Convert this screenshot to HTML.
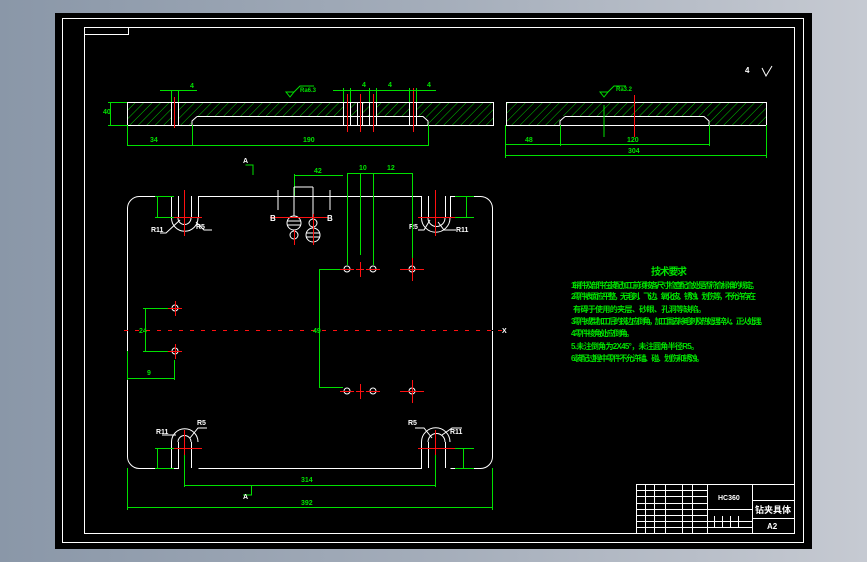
<!DOCTYPE html>
<html><head><meta charset="utf-8"><style>
html,body{margin:0;padding:0;width:867px;height:562px;overflow:hidden;background:linear-gradient(90deg,#8a97a8 0%,#a4adba 50%,#c6cad2 100%);}
svg{position:absolute;left:0;top:0}
.w{stroke:#fff;stroke-width:1;fill:none}
.g{stroke:#00e000;stroke-width:1;fill:none}
.r{stroke:#ff1010;stroke-width:1;fill:none}
.t{fill:#00e000;font-family:"Liberation Sans","Noto Sans CJK SC",sans-serif;font-weight:bold}
.tw{fill:#fff;font-family:"Liberation Sans","Noto Sans CJK SC",sans-serif;font-weight:bold}
</style></head><body>
<svg width="867" height="562" viewBox="0 0 867 562">
<defs>
<pattern id="h" width="6" height="6" patternUnits="userSpaceOnUse" patternTransform="rotate(45)">
<line x1="0" y1="0" x2="0" y2="6" stroke="#00c800" stroke-width="1"/>
</pattern>
</defs>
<rect x="55" y="13" width="757" height="536" fill="#000"/>
<rect x="62.5" y="18.5" width="741" height="524" class="w"/>
<rect x="84.5" y="27.5" width="710" height="506" class="w"/>
<polyline points="84.5,34.5 128.5,34.5 128.5,27.5" class="w"/>

<!-- section 1 -->
<rect x="127" y="102" width="366" height="23" fill="url(#h)"/>
<rect x="192" y="116" width="234" height="9" fill="#000"/>
<rect x="171" y="102" width="8" height="23" fill="#000"/>
<rect x="343" y="102" width="7" height="23" fill="#000"/><rect x="357" y="102" width="5" height="23" fill="#000"/><rect x="369" y="102" width="8" height="23" fill="#000"/><rect x="409" y="102" width="8" height="23" fill="#000"/>
<path class="w" d="M127.5,102.5H493.5V125.5H127.5ZM197,116.5H423L428,121V125M197,116.5L192,121V125"/>
<path class="w" d="M171.5,102V125M178.5,102V125M343.5,102V125M350.5,102V125M357.5,102V125M362.5,102V125M369.5,102V125M376.5,102V125M409.5,102V125M416.5,102V125"/>
<path class="r" d="M174.5,97V128M347.5,94V132M360.5,94V132M373.5,94V132M413.5,88V132"/>
<path class="g" d="M108,102.5H127M108,125.5H127M110.5,102V126M160,90.5H197M171.5,90V102M178.5,90V102M333,90.5H436M343.5,88V102M350.5,88V102M369.5,88V102M376.5,88V102M409.5,88V102M416.5,88V102M127.5,125V146M192.5,125V146M428.5,125V146M127,145.5H428M290,97L286,92H294ZM294,92L300,86H314"/>
<text class="t" x="103" y="114" font-size="7">40</text>
<text class="t" x="150" y="142" font-size="7">34</text>
<text class="t" x="303" y="142" font-size="7">190</text>
<text class="t" x="190" y="88" font-size="7">4</text><text class="t" x="362" y="87" font-size="7">4</text><text class="t" x="388" y="87" font-size="7">4</text><text class="t" x="427" y="87" font-size="7">4</text>
<text class="t" x="300" y="92" font-size="6">Ra6.3</text>
<!-- section 2 -->
<rect x="506" y="102" width="260" height="23" fill="url(#h)"/>
<rect x="560" y="116" width="148" height="9" fill="#000"/>
<path class="w" d="M506.5,102.5H766.5V125.5H506.5ZM565,116.5H704L709,121V125M565,116.5L560,121V125"/>
<path class="r" d="M634.5,95V137"/>
<path class="g" d="M505.5,125V158M560.5,125V146M709.5,125V146M766.5,125V158M505,144.5H709M505,155.5H766M604,97L600,92H608ZM608,92L614,86H626M604,105V137"/>
<text class="t" x="525" y="142" font-size="7">48</text>
<text class="t" x="627" y="142" font-size="7">120</text>
<text class="t" x="628" y="153" font-size="7">304</text>
<text class="t" x="616" y="91" font-size="6">Ra3.2</text>
<text class="tw" x="745" y="73" font-size="8">4</text><path class="w" d="M762,68L766,76L772,66"/>

<!-- plate -->
<path class="w" d="M139,196.5H171.5V218M178.5,196V218M191.5,196V218M198.5,196V218 M139,196.5A12,12 0 0 0 127.5,208V456A12,12 0 0 0 139,468.5H178.5V442M191.5,468V442M171.5,468V442M198.5,468.5H421.5V442M428.5,468V442M445.5,468V442M450.5,468.5H480A12,12 0 0 0 492.5,456V208A12,12 0 0 0 480,196.5H450.5V218M445.5,196V218M428.5,196V218M421.5,196.5H198.5M421.5,196V218"/>
<path class="w" d="M171.5,218A13,13 0 0 0 198,218M421.5,218A13,13 0 0 0 450,218M171.5,442A13,13 0 0 1 198,442M421.5,442A13,13 0 0 1 450,442M178,218A6,6 0 0 0 191,218M428,218A6,6 0 0 0 445,218M178,442A6,6 0 0 1 191,442M428,442A6,6 0 0 1 445,442"/>
<path class="w" d="M160,233H166L180,220M196,222L204,230H212M190,438L198,428H207M176,435H162M432,438L424,428H415M442,435L452,428H462M438,222L444,230H456M430,220L424,230H418"/>
<text class="tw" x="151" y="232" font-size="7">R11</text><text class="tw" x="196" y="229" font-size="7">R5</text>
<text class="tw" x="456" y="232" font-size="7">R11</text><text class="tw" x="409" y="229" font-size="7">R5</text>
<text class="tw" x="156" y="434" font-size="7">R11</text><text class="tw" x="197" y="425" font-size="7">R5</text>
<text class="tw" x="450" y="434" font-size="7">R11</text><text class="tw" x="408" y="425" font-size="7">R5</text>
<path class="r" d="M184.5,190V236M160,217.5H202M418,217.5H455M435.5,190V236M184.5,430V456M160,448.5H202M418,448.5H455M435.5,430V456M117,330.5H505"/>
<path class="r" d="M117,330.5H505" stroke-dasharray="7,4" style="stroke:#000"/>
<!-- green plate dims -->
<path class="g" d="M155,196.5H174M155,217.5H174M157.5,196V218M455,196.5H474M455,217.5H474M466.5,196V218M155,448.5H174M155,468.5H174M157.5,448V469M455,448.5H474M455,468.5H474M463.5,448V469"/>
<path class="g" d="M127.5,468V510M492.5,468V510M127,507.5H492M184.5,455V487M435.5,455V487M184,485.5H435M251.5,485V495H243"/>
<text class="t" x="301" y="482" font-size="7">314</text><text class="t" x="301" y="505" font-size="7">392</text>
<path class="g" d="M294.5,174V196M294,175.5H343M347.5,173V265M360.5,173V255M373.5,173V265M412.5,173V265M347,173.5H412M319.5,270V387M319,269.5H343M319,387.5H343M145.5,308V351M143,308.5H175M143,351.5H175M127.5,351V380M174.5,360V380M127,378.5H174M245.5,165H253V175"/>
<text class="t" x="314" y="173" font-size="7">42</text><text class="t" x="359" y="170" font-size="7">10</text><text class="t" x="387" y="170" font-size="7">12</text>
<text class="t" x="139" y="333" font-size="7">24</text><text class="t" x="147" y="375" font-size="7">9</text><text class="t" x="313" y="333" font-size="7">49</text>
<text class="tw" x="502" y="333" font-size="7">X</text>
<!-- holes -->
<g class="w">
<circle cx="175" cy="308" r="3"/><circle cx="175" cy="351" r="3"/>
<circle cx="347" cy="269" r="3"/><circle cx="373" cy="269" r="3"/><circle cx="412" cy="269" r="3"/>
<circle cx="347" cy="391" r="3"/><circle cx="373" cy="391" r="3"/><circle cx="412" cy="391" r="3"/>
<circle cx="294" cy="223" r="7"/><circle cx="294" cy="235" r="4"/><circle cx="313" cy="223" r="4"/><circle cx="313" cy="235" r="7"/>
<path d="M287,221H301M287,225H301M306,233H320M306,237H320M294,196V216M313,196V219M294,187H313M294,187V196M313,187V196M278,190V210M330,190V210"/>
</g>
<path class="r" d="M168,308.5H182M175.5,301V316M168,351.5H182M175.5,344V359M340,269.5H354M356,269.5H364M360.5,262V277M366,269.5H380M400,269.5H424M412.5,258V281M340,391.5H354M356,391.5H364M360.5,384V399M366,391.5H380M400,391.5H424M412.5,380V403M270,217.5H328M294.5,230V245M313.5,214V245"/>
<text class="tw" x="270" y="221" font-size="8">B</text><text class="tw" x="327" y="221" font-size="8">B</text>
<text class="tw" x="243" y="163" font-size="7">A</text><text class="tw" x="243" y="499" font-size="7">A</text>
<!-- text -->
<text class="t" x="651" y="275" font-size="10" textLength="36">技术要求</text>
<g class="t" font-size="8">
<text x="571" y="288" textLength="188">1.销件及部件在装配加工前须按各尺寸检查配合处是否符合标准的规定。</text>
<text x="571" y="299" textLength="185">2.零件表面应平整，无毛刺、飞边、氧化皮、锈蚀、划伤等，不允许存在</text>
<text x="573" y="312" textLength="133">有碍于使用的夹层、砂眼、孔洞等缺陷。</text>
<text x="571" y="324" textLength="196">3.零件成型加工后的锐边应倒角，加工面去除毛刺及热处理淬火、正火处理。</text>
<text x="571" y="336" textLength="63">4.零件棱角处应倒角。</text>
<text x="571" y="349" textLength="128">5.未注倒角为2X45°，未注圆角半径R5。</text>
<text x="571" y="361" textLength="133">6.装配过程中零件不允许磕、碰、划伤和锈蚀。</text>
</g>
<!-- title block -->
<g class="w">
<rect x="636.5" y="484.5" width="158" height="49"/>
<path d="M707.5,484V534M752.5,484V534M752,500.5H795M752,518.5H795M636,490.5H707M636,496.5H707M636,503.5H707M636,509.5H752M636,515.5H707M636,521.5H752M636,527.5H752M645.5,484V534M654.5,484V534M665.5,484V534M682.5,484V534M692.5,484V534M714.5,516V528M722.5,516V528M730.5,516V528M738.5,516V528"/>
</g>
<text class="tw" x="718" y="500" font-size="7">HC360</text>
<text class="tw" x="755" y="513" font-size="9">钻夹具体</text>
<text class="tw" x="767" y="529" font-size="8">A2</text>
</svg>
</body></html>
